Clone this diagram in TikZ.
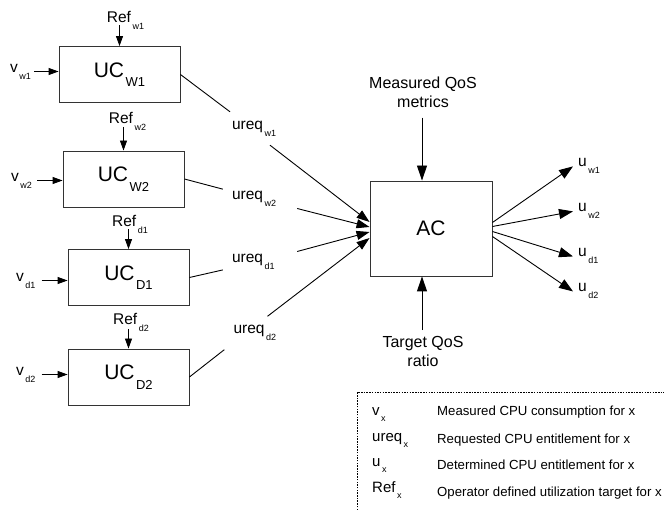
\documentclass[tikz,border=0pt]{standalone}
\usepackage{fontspec}
\setmainfont{Liberation Sans}
\usetikzlibrary{arrows.meta,calc}
\newcommand{\lsub}[2]{\kern1.5pt\raisebox{-0.45em}{\fontsize{#1}{#1}\selectfont #2}}
\begin{document}
\begin{tikzpicture}[x=1pt,y=-1pt,
  ucbox/.style={draw=black!80,line width=0.9pt,minimum width=121pt,minimum height=56pt,inner sep=0pt,font=\fontsize{21}{21}\selectfont},
  acbox/.style={draw=black!80,line width=0.9pt,minimum width=122pt,minimum height=95pt,inner sep=0pt,font=\fontsize{21}{21}\selectfont},
  reflbl/.style={inner sep=0pt,anchor=base,font=\fontsize{15.5}{15.5}\selectfont},
  vlbl/.style={inner sep=0pt,anchor=base west,font=\fontsize{15.5}{15.5}\selectfont},
  ureqlbl/.style={fill=white,inner xsep=9pt,inner ysep=0pt,text width=56pt,align=left,minimum height=33pt,font=\fontsize{15.5}{15.5}\selectfont},
  ulbl/.style={inner sep=0pt,anchor=base west,font=\fontsize{15.5}{15.5}\selectfont},
  qoslbl/.style={inner sep=0pt,align=center,font=\fontsize{16}{19}\selectfont},
  legsym/.style={inner sep=0pt,anchor=base west,font=\fontsize{15}{15}\selectfont},
  legtxt/.style={inner sep=0pt,anchor=base west,font=\fontsize{13.2}{13.2}\selectfont},
  conn/.style={line width=0.9pt},
  smallarr/.style={conn,-{Triangle[length=10pt,width=7pt]}},
  bigarr/.style={conn,-{Triangle[length=13pt,width=9pt]}},
  outarr/.style={conn,-{Triangle[length=14pt,width=10pt]}},
  toparr/.style={conn,-{Triangle[length=15pt,width=10pt]}},
  legline/.style={line width=0.8pt,dash pattern=on 1.5pt off 1.2pt}
]
\useasboundingbox (0,0) rectangle (664,510);

% UC boxes
\node[ucbox] (UCw1) at (119.5,74.5) {UC\lsub{13}{W1}};
\node[ucbox] (UCw2) at (123.5,179) {UC\lsub{13}{W2}};
\node[ucbox] (UCd1) at (128.5,277.5) {UC\lsub{13}{D1}};
\node[ucbox] (UCd2) at (128.5,377) {UC\lsub{13}{D2}};

% AC box
\node[acbox] (AC) at (431,228.5) {AC};

% Ref labels
\node[reflbl] (rw1) at (125.5,23) {Ref\lsub{9}{w1}};
\node[reflbl] (rw2) at (127.5,124) {Ref\lsub{9}{w2}};
\node[reflbl] (rd1) at (130,227) {Ref\lsub{9}{d1}};
\node[reflbl] (rd2) at (131,325) {Ref\lsub{9}{d2}};
\draw[smallarr] ([yshift=-2.5pt]rw1.base -| UCw1.north) -- (UCw1.north);
\draw[smallarr] ([yshift=-3pt]rw2.base -| UCw2.north) -- (UCw2.north);
\draw[smallarr] ([yshift=-2.5pt]rd1.base -| UCd1.north) -- (UCd1.north);
\draw[smallarr] ([yshift=-4pt]rd2.base -| UCd2.north) -- (UCd2.north);

% v labels
\node[vlbl] (vw1) at (10,73) {v\lsub{9}{w1}};
\node[vlbl] (vw2) at (11,182) {v\lsub{9}{w2}};
\node[vlbl] (vd1) at (16,282) {v\lsub{9}{d1}};
\node[vlbl] (vd2) at (16,376) {v\lsub{9}{d2}};
\draw[smallarr] ([xshift=3pt,yshift=1.5pt]vw1.base east) -- ([yshift=1.5pt]vw1.base east -| UCw1.west);
\draw[smallarr] ([xshift=5pt,yshift=1.5pt]vw2.base east) -- ([yshift=1.5pt]vw2.base east -| UCw2.west);
\draw[smallarr] ([xshift=6pt,yshift=1.5pt]vd1.base east) -- ([yshift=1.5pt]vd1.base east -| UCd1.west);
\draw[smallarr] ([xshift=6pt,yshift=1.5pt]vd2.base east) -- ([yshift=1.5pt]vd2.base east -| UCd2.west);

% ureq labels
\node[ureqlbl] (lw1) at (260,128.5) {ureq\lsub{9}{w1}};
\node[ureqlbl] (lw2) at (260,199) {ureq\lsub{9}{w2}};
\node[ureqlbl] (ld1) at (260,261.5) {ureq\lsub{9}{d1}};
\node[ureqlbl] (ld2) at (261.5,333) {ureq\lsub{9}{d2}};

\draw[conn] (UCw1.east) -- ([xshift=-30pt]lw1.north);
\draw[conn] (UCw2.east) -- (lw2);
\draw[conn] (UCd1.east) -- (ld1);
\draw[conn] (UCd2.east) -- (ld2.south west);

\draw[bigarr] ([xshift=10pt]lw1.south) -- ([yshift=6.5pt]AC.west);
\draw[bigarr] (lw2) -- ([yshift=1.5pt]AC.west);
\draw[bigarr] (ld1) -- ([yshift=-3.5pt]AC.west);
\draw[bigarr] ([xshift=6pt]ld2.north) -- ([yshift=-9.5pt]AC.west);

% QoS inputs
\node[qoslbl] (mq) at (423,92) {Measured QoS\\metrics};
\node[qoslbl] (tq) at (423,351.5) {Target QoS\\ratio};
\draw[toparr,shorten <=10pt] ([xshift=-1pt]mq.south) -- ([xshift=-1pt]mq.south |- AC.north);
\draw[toparr,shorten <=6pt] ([xshift=-1pt]tq.north) -- ([xshift=-1pt]tq.north |- AC.south);

% outputs
\node[ulbl] (uw1) at (578,167) {u\lsub{9}{w1}};
\node[ulbl] (uw2) at (578,212) {u\lsub{9}{w2}};
\node[ulbl] (ud1) at (578,257) {u\lsub{9}{d1}};
\node[ulbl] (ud2) at (578,292) {u\lsub{9}{d2}};
\draw[outarr] ([yshift=6pt]AC.east) -- ([xshift=-5pt]uw1.west);
\draw[outarr] ([yshift=2pt]AC.east) -- ([xshift=-5pt]uw2.west);
\draw[outarr] ([yshift=-3pt]AC.east) -- ([xshift=-5pt]ud1.west);
\draw[outarr] ([yshift=-8pt]AC.east) -- ([xshift=-5pt]ud2.west);

% legend
\draw[legline] (357,510) -- (357,392.5) -- (664,392.5);
\node[legsym] (s1) at (372,415) {v\lsub{9}{x}};
\node[legsym] (s2) at (372,441) {ureq\lsub{9}{x}};
\node[legsym] (s3) at (372,466) {u\lsub{9}{x}};
\node[legsym] (s4) at (372,492) {Ref\lsub{9}{x}};
\node[legtxt] (d1) at (437,416) {Measured CPU consumption for x};
\node[legtxt] (d2) at (437,443) {Requested CPU entitlement for x};
\node[legtxt] (d3) at (437,469) {Determined CPU entitlement for x};
\node[legtxt] (d4) at (437,496) {Operator defined utilization target for x};
\end{tikzpicture}
\end{document}
